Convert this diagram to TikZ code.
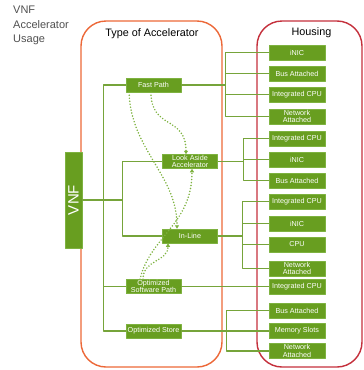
\documentclass[tikz,border=0pt]{standalone}
\usepackage{fontspec}
\setmainfont{Liberation Sans}
\usetikzlibrary{arrows.meta}
\definecolor{accgreen}{RGB}{104,158,32}
\definecolor{linegreen}{RGB}{118,164,58}
\definecolor{dotgreen}{RGB}{126,178,64}
\definecolor{typeorange}{RGB}{236,104,56}
\definecolor{housered}{RGB}{196,48,60}
\definecolor{titlegray}{RGB}{80,80,80}
\begin{document}
\begin{tikzpicture}[x=1pt,y=-1pt,line join=round,
  box/.style={fill=accgreen,draw=dotgreen,line width=0.5pt,text=white,
    font=\fontsize{7.2}{7.2}\selectfont,align=center,inner sep=0.5pt},
  accbox/.style={box,minimum width=55pt,minimum height=14pt},
  housebox/.style={box,minimum width=56pt,minimum height=15pt},
  link/.style={draw=linegreen,line width=1.3pt},
  hint/.style={draw=dotgreen,line width=1.7pt,line cap=round,
    dash pattern=on 0pt off 3pt,-{Triangle[length=3.5pt,width=4pt]}},
  frame/.style={line width=1.4pt,rounded corners=25pt}]
\useasboundingbox (0,0) rectangle (364,370);
% frames
\draw[frame,typeorange] (81,21) rectangle (222,367);
\draw[frame,housered] (257,21) rectangle (362,367);
\node[font=\fontsize{11}{14.5}\selectfont,text=titlegray,align=left,
  anchor=north west,inner sep=0] (usage) at (13,6) {VNF\\Accelerator\\Usage};
\node[font=\fontsize{10.8}{12}\selectfont] (typetitle) at (152,34) {Type of Accelerator};
\node[font=\fontsize{10.8}{12}\selectfont] (housetitle) at (311.5,33) {Housing};
% accelerators
\node[box,rotate=90,minimum width=96pt,minimum height=17pt,
  font=\fontsize{15}{15}\selectfont] (vnf) at (73.5,200) {VNF};
\node[accbox] (fast) at (153.5,85) {Fast Path};
\node[accbox] (look) at (190,161.5) {Look Aside\\Accelerator};
\node[accbox] (inline) at (190,236) {In-Line};
\node[accbox] (osp) at (153.5,286.5) {Optimized\\Software Path};
\node[accbox] (ostore) at (153.5,331) {Optimized Store};
% housing
\foreach \n/\y/\t in {h1a/52.5/iNIC, h1b/73.5/Bus Attached, h1c/94.5/Integrated CPU,
    h1d/116.5/Network\\Attached, h2a/138.5/Integrated CPU, h2b/159.5/iNIC,
    h2c/180.5/Bus Attached, h3a/201.5/Integrated CPU, h3b/223.5/iNIC,
    h3c/244.5/CPU, h3d/268.5/Network\\Attached, h4a/286.5/Integrated CPU,
    h5a/310.5/Bus Attached, h5b/331/Memory Slots, h5c/351/Network\\Attached}
  \node[housebox] (\n) at (297,\y) {\t};
% junctions
\path (fast.west) ++(-22,0) coordinate (fastw)
  (look.west) ++(-40,0) coordinate (lookw)
  (fast.east) ++(44,0) coordinate (fastj)
  (look.east) ++(26,0) coordinate (lookj)
  (inline.east) ++(25,0) coordinate (inlinej)
  (ostore.east) ++(45,0) coordinate (ostorej);
\coordinate (branch) at (lookw |- vnf);
\draw[link] (fast.west) -- (fastw) |- (ostore.west);
\draw[link] (osp.west) -- (osp.west -| fastw);
\draw[link] (vnf) -- (branch);
\draw[link] (look.west) -- (lookw) |- (inline.west);
\draw[link] (fast.east) -- (fastj);
\draw[link] (look.east) -- (lookj);
\draw[link] (inline.east) -- (inlinej);
\draw[link] (osp.east) -- (h4a.west);
\draw[link] (ostore.east) -- (h5b.west);
\foreach \j/\h in {fastj/h1a, fastj/h1b, fastj/h1c, fastj/h1d, lookj/h2a, lookj/h2b,
    lookj/h2c, inlinej/h3a, inlinej/h3b, inlinej/h3c, inlinej/h3d, ostorej/h5a, ostorej/h5c}
  \draw[link] (\j) |- (\h.west);
% dotted hints
\draw[hint] ([xshift=-2.5pt]fast.south) .. controls +(0,38) and +(0,-39) .. ([xshift=-4pt]look.north);
\draw[hint] ([xshift=-24.5pt]fast.south) .. controls +(2,58) and +(0,-54) .. ([xshift=-13pt]inline.north);
\draw[hint] ([xshift=-13.5pt]osp.north) .. controls +(10,-43) and +(0,56) .. ([xshift=2pt]look.south);
\draw[hint] ([xshift=-10.5pt]osp.north) .. controls +(0,-20) and +(0,19) .. ([xshift=-22pt]inline.south);
\end{tikzpicture}
\end{document}
